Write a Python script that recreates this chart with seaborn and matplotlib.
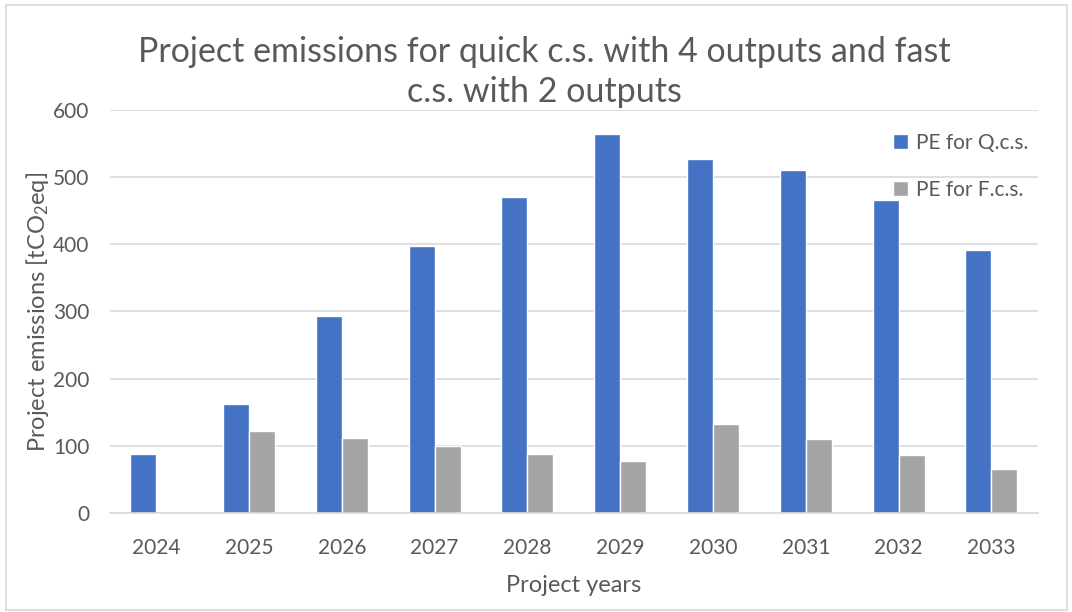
import numpy as np
import pandas as pd
import matplotlib
matplotlib.use("Agg")
import matplotlib.pyplot as plt
import seaborn as sns

# data
years = ["2024", "2025", "2026", "2027", "2028", "2029", "2030", "2031", "2032", "2033"]
pe_quick = [88, 162, 294, 397, 470, 564, 527, 511, 466, 391]
pe_fast = [0, 122, 111, 100, 88, 77, 132, 110, 87, 65]
series_names = ["PE for Q.c.s.", "PE for F.c.s."]
yticks = [0, 100, 200, 300, 400, 500, 600]

df = pd.DataFrame({"year": years * 2,
                   "value": pe_quick + pe_fast,
                   "series": [series_names[0]] * len(years) + [series_names[1]] * len(years)})

sns.set_style("white")
plt.rcParams['font.family'] = ['Lato', 'DejaVu Sans']
plt.rcParams['mathtext.fontset'] = 'custom'
plt.rcParams['mathtext.rm'] = 'Lato'
plt.rcParams['mathtext.it'] = 'Lato'
txt = "#595959"

fig = plt.figure(figsize=(10.72, 6.12), dpi=100)
ax = fig.add_axes([0.1026, 0.1618, 0.8654, 0.6585])

sns.barplot(data=df, x="year", y="value", hue="series",
            palette=["#4472C4", "#A5A5A5"], width=0.56, gap=0,
            saturation=1, ax=ax)

ax.set_ylim(0, 600)
ax.set_yticks(yticks)
ax.yaxis.grid(True, color="#d9d9d9", linewidth=1.2)
ax.set_axisbelow(True)
for s in ["top", "right", "left"]:
    ax.spines[s].set_visible(False)
ax.spines["bottom"].set_color("#d9d9d9")
ax.spines["bottom"].set_linewidth(1.2)
ax.tick_params(axis="both", length=0, labelsize=15, colors=txt)
ax.tick_params(axis="y", pad=15)
ax.tick_params(axis="x", pad=18)

ax.set_xlabel("Project years", fontsize=17, color=txt, labelpad=12)
ax.set_ylabel(r"Project emissions [tCO$_2$eq]", fontsize=17, color=txt, labelpad=1)

fig.text(0.508, 0.882, "Project emissions for quick c.s. with 4 outputs and fast\nc.s. with 2 outputs",
         ha="center", va="center", fontsize=24.5, color=txt, linespacing=1.3)

leg = ax.legend(loc="upper right", bbox_to_anchor=(1.01, 0.99), frameon=False,
                fontsize=15, labelspacing=1.3, handlelength=0.7, handleheight=0.7,
                handletextpad=0.4)
for t in leg.get_texts():
    t.set_color(txt)

# light chart-area frame like the original
fig.patches.append(plt.Rectangle((0.006, 0.004), 0.989, 0.988, transform=fig.transFigure,
                                 fill=False, edgecolor="#d9d9d9", linewidth=1.2))

fig.savefig("out.png", dpi=100)
